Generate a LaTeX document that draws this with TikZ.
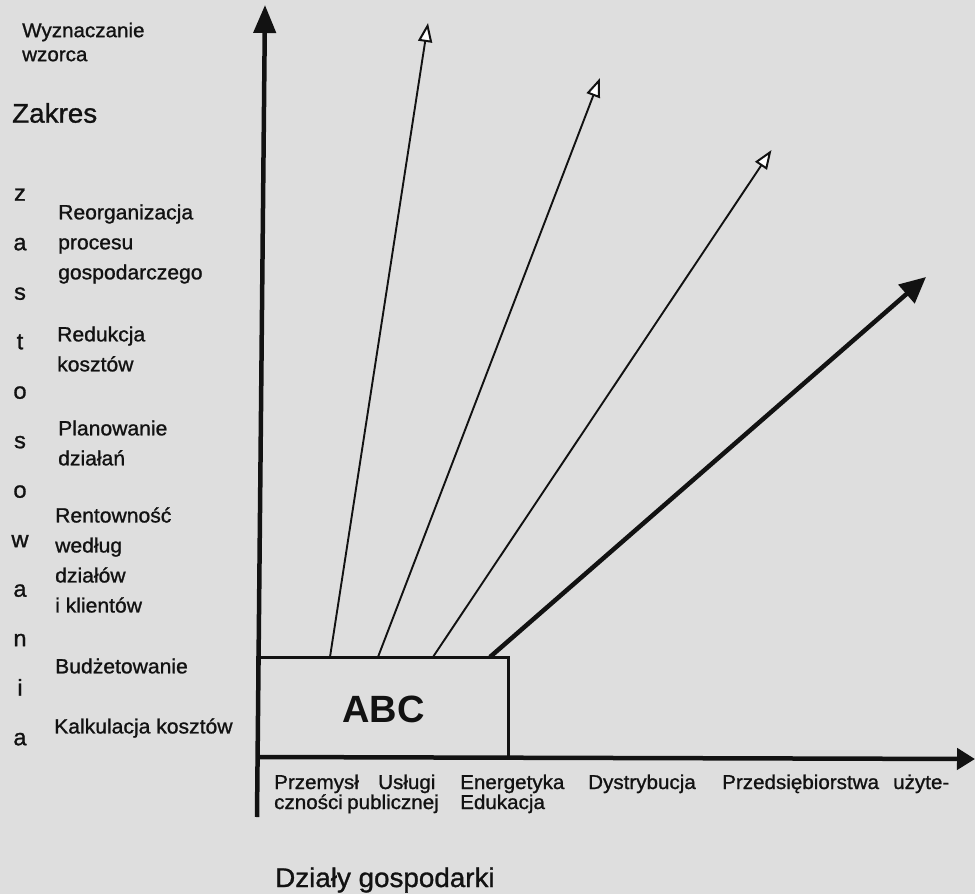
\documentclass[tikz,border=0pt]{standalone}
\usepackage{fontspec}
\setmainfont{Liberation Sans}
\newfontfamily\labelsans[FakeBold=1.1,FakeStretch=1.03]{Liberation Sans}
\usetikzlibrary{arrows.meta,calc}

\definecolor{paper}{RGB}{222,222,222}
\definecolor{ink}{RGB}{18,18,18}

\tikzset{
  axisline/.style={draw=ink, line width=4.5pt,
    -{Triangle[length=28pt,width=22pt]}},
  xaxisline/.style={draw=ink, line width=4.5pt,
    -{Triangle[length=18pt,width=21pt]}},
  ray/.style={draw=ink, line width=1.9pt,
    -{Triangle[open,length=19pt,width=14pt,line width=2pt,fill=white]}},
  boldray/.style={draw=ink, line width=4.5pt,
    -{Triangle[length=26pt,width=24pt]}},
  abcbox/.style={draw=ink, line width=3pt, minimum width=251pt,
    minimum height=100pt, inner sep=0pt},
  uselabel/.style={font=\labelsans\fontsize{20.5}{30}\selectfont, align=left,
    anchor=west, inner sep=0pt, text=ink},
  sector/.style={font=\labelsans\fontsize{20}{22}\selectfont,
    anchor=base west, inner sep=0pt, text=ink},
}

\begin{document}
\begin{tikzpicture}[x=1pt,y=-1pt]
  % paper
  \path[fill=paper,use as bounding box] (0,0) rectangle (975,894);

  % ABC block sitting in the corner of the axes
  \node[abcbox] (abc) at (382.5,707) {};
  \node[font=\bfseries\fontsize{38}{40}\selectfont, text=ink, inner sep=0pt]
    (abctext) at (383.5,709) {ABC};

  % axes
  \coordinate (ybottom) at (257,817);
  \coordinate (ytip) at (265,5);
  \coordinate (xstart) at (257,757);
  \coordinate (xtip) at (975,759);
  \draw[axisline] (ybottom) -- (ytip);
  \draw[xaxisline] (xstart) -- (xtip);

  % rays leaving the top of the block
  \coordinate (s1) at (330,657);
  \coordinate (s2) at (378,657);
  \coordinate (s3) at (433,657);
  \coordinate (s4) at (490,657);
  \coordinate (t1) at (428,23);
  \coordinate (t2) at (600,78);
  \coordinate (t3) at (771.5,150);
  \coordinate (t4) at (926,277);
  \draw[ray] (s1) -- (t1);
  \draw[ray] (s2) -- (t2);
  \draw[ray] (s3) -- (t3);
  \draw[boldray] (s4) -- (t4);

  % vertical axis captions
  \node[font=\labelsans\fontsize{20}{24}\selectfont, align=left, anchor=west,
    inner sep=0pt, text=ink] (wzorzec) at (22,42) {Wyznaczanie\\wzorca};
  \node[font=\labelsans\fontsize{27}{30}\selectfont, anchor=west,
    inner sep=0pt, text=ink] (zakres) at (12,113) {Zakres};
  \node[font=\labelsans\fontsize{23}{49.5}\selectfont, align=center,
    inner sep=0pt, text=ink] (zast) at (20,467)
    {z\\a\\s\\t\\o\\s\\o\\w\\a\\n\\i\\a};

  \node[uselabel] (reorg) at (58,244) {Reorganizacja\\procesu\\gospodarczego};
  \node[uselabel] (redukcja) at (57,349) {Redukcja\\kosztów};
  \node[uselabel] (planowanie) at (58,443) {Planowanie\\działań};
  \node[uselabel] (rentownosc) at (55,560) {Rentowność\\według\\działów\\i klientów};
  \node[uselabel] (budzet) at (55,666) {Budżetowanie};
  \node[uselabel] (kalkulacja) at (54,728) {Kalkulacja kosztów};

  % sectors under the horizontal axis
  \node[sector] (w1) at (274,789) {Przemysł};
  \node[sector] (w2) at (378,789) {Usługi};
  \node[sector] (w3) at (460,789) {Energetyka};
  \node[sector] (w4) at (588,789) {Dystrybucja};
  \node[sector] (w5) at (722,789) {Przedsiębiorstwa};
  \node[sector] (w6) at (893,789) {użyte-};
  \node[sector] (w7) at (274,809) {czności};
  \node[sector] (w8) at (347,809) {publicznej};
  \node[sector] (w9) at (460,809) {Edukacja};

  \node[font=\labelsans\fontsize{27}{30}\selectfont, anchor=base west,
    inner sep=0pt, text=ink] (dzialy) at (275,887) {Działy gospodarki};
\end{tikzpicture}
\end{document}
